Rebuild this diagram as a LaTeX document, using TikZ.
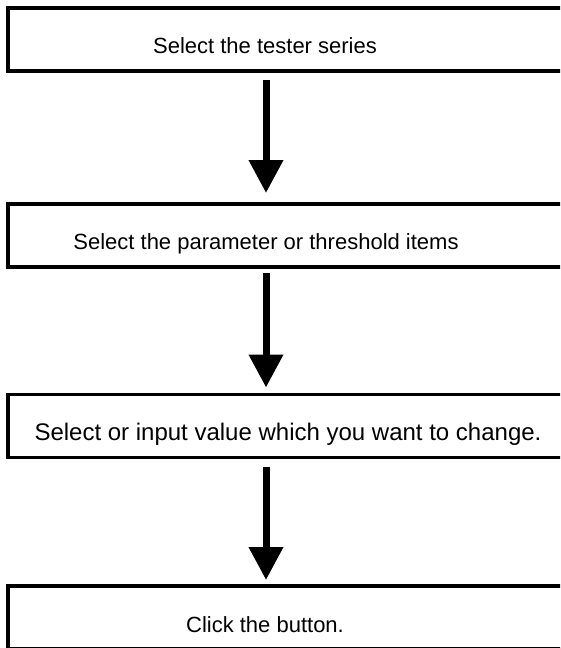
\documentclass[tikz,border=0pt]{standalone}
\usepackage{fontspec}
\setmainfont{Liberation Sans}
\usetikzlibrary{arrows.meta}
\begin{document}
\begin{tikzpicture}[x=1pt,y=-1pt,
  stepbox/.style={draw=black, line width=3.6pt, rectangle, inner sep=0pt, outer sep=0pt,
    minimum width=582pt, minimum height=63pt},
  label/.style={anchor=base, inner sep=0pt, font=\fontsize{22}{26}\selectfont},
  arr/.style={line width=7pt, -{Triangle[length=33pt,width=33pt]}}]
\useasboundingbox (0,0) rectangle (560,648);
\clip (0,0) rectangle (560,648);
\node[stepbox] (b1) at (299,39.5) {};
\node[stepbox] (b2) at (299,235.5) {};
\node[stepbox] (b3) at (299,426) {};
\node[stepbox] (b4) at (299,617.5) {};
\node[label] (t1) at (265,53) {Select the tester series};
\node[label] (t2) at (266,249) {Select the parameter or threshold items};
\node[label, font=\fontsize{24}{28}\selectfont] (t3) at (288,440) {Select or input value which you want to change.};
\node[label] (t4) at (265,632) {Click the button.};
\coordinate (ax) at (266,0);
\draw[arr, shorten <=9pt, shorten >=11pt] (b1.south -| ax) -- (b2.north -| ax);
\draw[arr, shorten <=6pt, shorten >=7pt] (b2.south -| ax) -- (b3.north -| ax);
\draw[arr, shorten <=9pt, shorten >=6pt] (b3.south -| ax) -- (b4.north -| ax);
\end{tikzpicture}
\end{document}
